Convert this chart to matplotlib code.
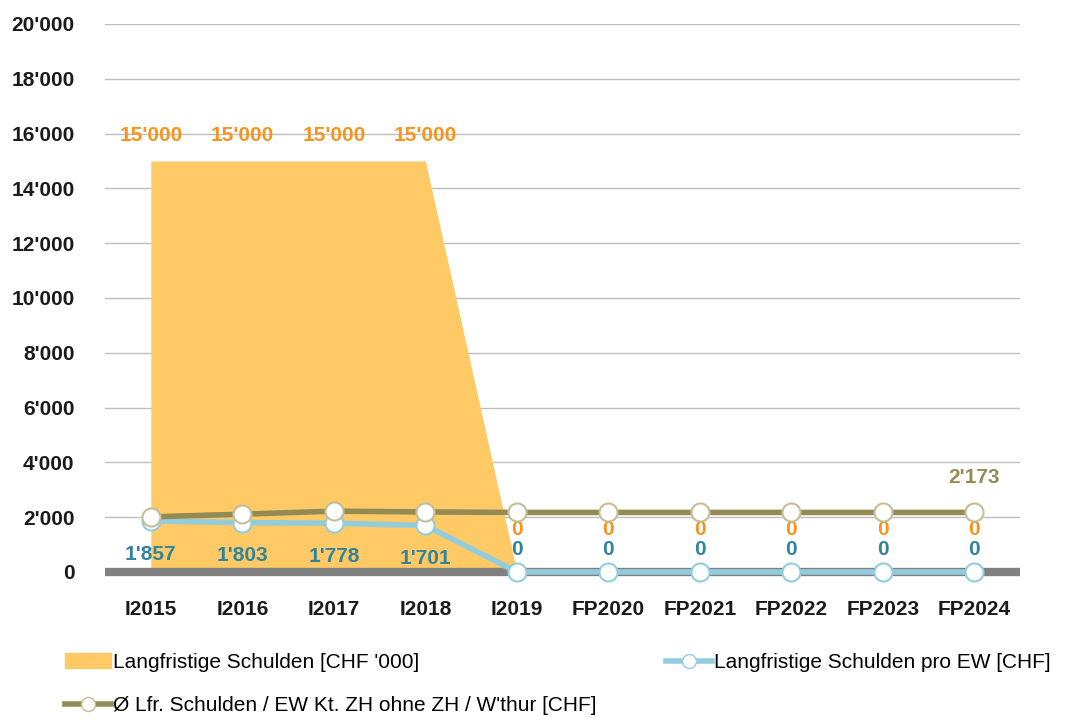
import numpy as np
import matplotlib.pyplot as plt
from matplotlib.patches import Patch
from matplotlib.lines import Line2D

plt.rcParams['font.family'] = ['Liberation Sans', 'DejaVu Sans']

# Daten
jahre = ['I2015', 'I2016', 'I2017', 'I2018', 'I2019',
         'FP2020', 'FP2021', 'FP2022', 'FP2023', 'FP2024']
schulden = [15000, 15000, 15000, 15000, 0, 0, 0, 0, 0, 0]
pro_ew = [1857, 1803, 1778, 1701, 0, 0, 0, 0, 0, 0]
mittel = [2010, 2110, 2220, 2190, 2173, 2173, 2173, 2173, 2173, 2173]
yticks = list(range(0, 20001, 2000))

def fmt(v):
    return f'{v:,}'.replace(',', "'")

c_area = '#FFC966'
c_orange = '#F7941D'
c_blue = '#93CDDD'
c_blue_txt = '#31849B'
c_olive = '#948A54'
c_olive_edge = '#C4BD97'

fig = plt.figure(figsize=(10.83, 7.2), dpi=100)
ax = fig.add_axes([0.097, 0.2056, 0.845, 0.7611])

x = np.arange(len(jahre))
ax.fill_between(x, schulden, color=c_area, lw=0, zorder=1)

ax.plot(x, mittel, color=c_olive, lw=4, marker='o', ms=13, mfc='white',
        mec=c_olive_edge, mew=1.5, zorder=4, clip_on=False)
ax.plot(x, pro_ew, color=c_blue, lw=4, marker='o', ms=13, mfc='white',
        mec=c_blue, mew=1.5, zorder=3, clip_on=False)

ax.set_xlim(-0.5, len(jahre) - 0.5)
ax.set_ylim(0, 20000)
ax.set_yticks(yticks)
ax.set_yticklabels([fmt(v) for v in yticks])
ax.set_xticks(x)
ax.set_xticklabels(jahre)
ax.grid(axis='y', color='#BFBFBF', lw=1, zorder=0)
ax.set_axisbelow(True)
for s in ax.spines.values():
    s.set_visible(False)
ax.axhline(0, color='#808080', lw=6, zorder=2, clip_on=False, solid_capstyle='butt')
ax.tick_params(length=0, labelsize=15)
ax.tick_params(axis='x', pad=20)
ax.tick_params(axis='y', pad=22)
for t in ax.get_xticklabels() + ax.get_yticklabels():
    t.set_fontweight('bold')
    t.set_color('#1A1A1A')

# Datenbeschriftungen
for i, v in enumerate(schulden):
    if v > 0:
        ax.annotate(fmt(v), (i, v), xytext=(0, 18), textcoords='offset points',
                    ha='center', va='center', color=c_orange, fontsize=15, fontweight='bold')
    else:
        ax.annotate(fmt(v), (i, mittel[i]), xytext=(0, -12), textcoords='offset points',
                    ha='center', va='center', color=c_orange, fontsize=15, fontweight='bold')
for i, v in enumerate(pro_ew):
    if v > 0:
        ax.annotate(fmt(v), (i, v), xytext=(0, -24), textcoords='offset points',
                    ha='center', va='center', color=c_blue_txt, fontsize=15, fontweight='bold')
    else:
        ax.annotate(fmt(v), (i, v), xytext=(0, 16), textcoords='offset points',
                    ha='center', va='center', color=c_blue_txt, fontsize=15, fontweight='bold')
ax.annotate(fmt(mittel[-1]), (len(jahre) - 1, mittel[-1]), xytext=(0, 25),
            textcoords='offset points', ha='center', va='center',
            color=c_olive, fontsize=15, fontweight='bold')

# Legende
h1 = Patch(color=c_area)
h2 = Line2D([], [], color=c_blue, lw=4, marker='o', ms=10, mfc='white', mec=c_blue)
h3 = Line2D([], [], color=c_olive, lw=4, marker='o', ms=10, mfc='white', mec=c_olive_edge)
kw = dict(frameon=False, fontsize=15, handlelength=2.2, handletextpad=0.1, loc='center left')
fig.legend([h1], ["Langfristige Schulden [CHF '000]"], bbox_to_anchor=(0.043, 0.08), **kw)
fig.legend([h2], ['Langfristige Schulden pro EW [CHF]'], bbox_to_anchor=(0.598, 0.08), **kw)
fig.legend([h3], ["Ø Lfr. Schulden / EW Kt. ZH ohne ZH / W'thur [CHF]"], bbox_to_anchor=(0.043, 0.02), **kw)

fig.savefig('out.png', dpi=100)
